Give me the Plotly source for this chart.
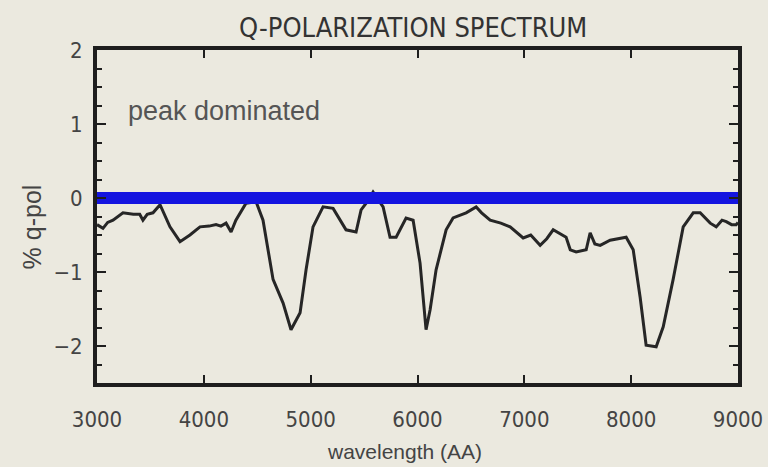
import plotly.graph_objects as go

wavelength = [3000, 3056, 3100, 3150, 3243, 3340, 3400, 3430, 3470, 3524, 3590, 3683, 3777, 3870, 3964,
              4050, 4114, 4160, 4208, 4255, 4300, 4339, 4395, 4440, 4489, 4554, 4648, 4742, 4816, 4901,
              4957, 5022, 5116, 5210, 5331, 5425, 5472, 5530, 5584, 5678, 5743, 5800, 5893, 5959, 6024,
              6080, 6118, 6174, 6268, 6333, 6455, 6549, 6600, 6680, 6780, 6867, 6989, 7060, 7148, 7210,
              7270, 7391, 7430, 7485, 7579, 7616, 7660, 7710, 7803, 7953, 8019, 8084, 8140, 8234, 8300,
              8393, 8487, 8581, 8646, 8740, 8796, 8850, 8890, 8940, 8983, 9000]
qpol = [-0.36, -0.41, -0.33, -0.3, -0.2, -0.22, -0.22, -0.3, -0.22, -0.2, -0.09, -0.39, -0.59, -0.5, -0.39,
        -0.38, -0.36, -0.38, -0.34, -0.46, -0.3, -0.2, -0.07, -0.06, -0.05, -0.3, -1.1, -1.42, -1.78, -1.55,
        -0.97, -0.39, -0.12, -0.14, -0.43, -0.46, -0.16, -0.05, 0.08, -0.12, -0.53, -0.53, -0.27, -0.3, -0.88,
        -1.78, -1.51, -0.97, -0.43, -0.27, -0.2, -0.12, -0.2, -0.3, -0.34, -0.39, -0.54, -0.5, -0.64, -0.55,
        -0.43, -0.53, -0.7, -0.73, -0.7, -0.47, -0.62, -0.64, -0.57, -0.53, -0.7, -1.34, -1.99, -2.01, -1.74,
        -1.1, -0.39, -0.2, -0.2, -0.34, -0.39, -0.3, -0.32, -0.36, -0.36, -0.33]
zero_x = [3000, 9000]
zero_y = [0, 0]
x_ticks = [3000, 4000, 5000, 6000, 7000, 8000, 9000]
y_ticks = [-2, -1, 0, 1, 2]

BG = "#ebe9df"
NARROW = "Liberation Sans Narrow, DejaVu Sans Condensed, Arial Narrow, sans-serif"
REG = "Liberation Sans, Arial, sans-serif"

fig = go.Figure()
fig.add_trace(go.Scatter(x=wavelength, y=qpol, mode="lines",
                         line=dict(color="#262626", width=3)))
fig.add_trace(go.Scatter(x=zero_x, y=zero_y, mode="lines",
                         line=dict(color="#1414e0", width=12)))

fig.add_annotation(x=3270, y=1.17, text="peak dominated", showarrow=False,
                   xanchor="left", yanchor="middle", font=dict(size=27, color="#555", family=REG))
fig.add_annotation(xref="paper", yref="paper", x=0.48, y=-0.207, text="wavelength (AA)",
                   showarrow=False, xanchor="center", yanchor="middle",
                   font=dict(size=21, color="#444", family=REG))
fig.add_annotation(xref="paper", yref="paper", x=-0.101, y=0.468, text="% q-pol", textangle=-90,
                   showarrow=False, xanchor="center", yanchor="middle",
                   font=dict(size=25, color="#444", family=REG))

axis_common = dict(showline=True, linewidth=4, linecolor="#1e1e1e", mirror="ticks",
                   ticks="inside", tickwidth=2, tickcolor="#1e1e1e", showgrid=False,
                   zeroline=False, automargin=False,
                   tickfont=dict(size=22, color="#444", family=NARROW))

fig.update_xaxes(range=[3000, 9000], tickvals=x_ticks, ticklen=8, ticklabelstandoff=14,
                 **axis_common)
fig.update_yaxes(range=[-2.5, 2.0], tickvals=y_ticks, ticklen=9, ticklabelstandoff=6,
                 minor=dict(ticks="inside", dtick=0.25, ticklen=5, tickwidth=2, tickcolor="#1e1e1e"),
                 **axis_common)

fig.update_layout(
    width=768, height=467,
    paper_bgcolor=BG, plot_bgcolor=BG,
    showlegend=False,
    margin=dict(l=97, r=30, t=50, b=84),
    title=dict(text="Q-POLARIZATION SPECTRUM", x=0.538, xanchor="center", y=0.942, yanchor="middle",
               font=dict(size=27, color="#333", family=NARROW)),
)

fig.write_html("out.html")
